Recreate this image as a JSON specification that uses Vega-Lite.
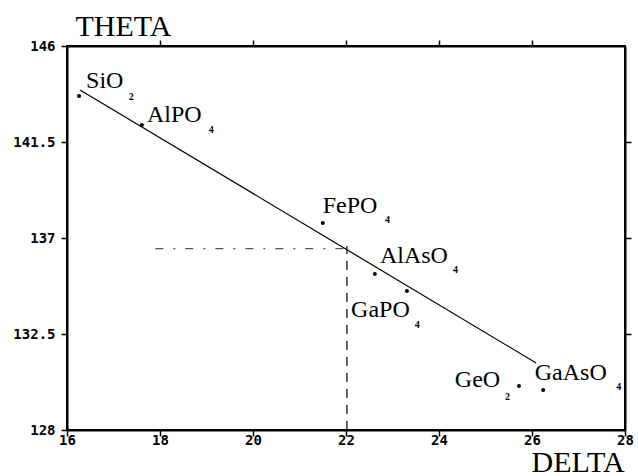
{
  "$schema": "https://vega.github.io/schema/vega-lite/v6.json",
  "width": 558,
  "height": 384,
  "autosize": {"type": "none"},
  "padding": {"left": 67, "top": 46, "right": 13, "bottom": 46},
  "background": "white",
  "config": {
    "view": {"stroke": "black", "strokeWidth": 2},
    "axis": {"grid": false}
  },
  "datasets": {
    "pts": [
      {"name": "SiO", "sub": "2", "delta": 16.26, "theta": 143.66, "lx": 16.41, "ly": 144.03, "sx": 17.33, "sy": 143.47},
      {"name": "AlPO", "sub": "4", "delta": 17.61, "theta": 142.3, "lx": 17.72, "ly": 142.44, "sx": 19.05, "sy": 141.92},
      {"name": "FePO", "sub": "4", "delta": 21.5, "theta": 137.7, "lx": 21.5, "ly": 138.17, "sx": 22.84, "sy": 137.7},
      {"name": "AlAsO", "sub": "4", "delta": 22.62, "theta": 135.31, "lx": 22.73, "ly": 135.83, "sx": 24.3, "sy": 135.36},
      {"name": "GaPO", "sub": "4", "delta": 23.31, "theta": 134.51, "lx": 22.11, "ly": 133.3, "sx": 23.48, "sy": 132.78},
      {"name": "GeO", "sub": "2", "delta": 25.72, "theta": 130.06, "lx": 24.34, "ly": 130.0, "sx": 25.42, "sy": 129.4},
      {"name": "GaAsO", "sub": "4", "delta": 26.24, "theta": 129.87, "lx": 26.06, "ly": 130.34, "sx": 27.81, "sy": 129.87}
    ],
    "fit": [
      {"delta": 16.28, "theta": 143.94},
      {"delta": 26.09, "theta": 131.14}
    ],
    "vdash": [
      {"delta": 22.02, "theta": 128},
      {"delta": 22.02, "theta": 136.62}
    ],
    "hdash": [
      {"delta": 17.9, "theta": 136.5},
      {"delta": 22.02, "theta": 136.5}
    ]
  },
  "resolve": {"axis": {"x": "independent", "y": "independent"}},
  "layer": [
    {
      "data": {"name": "fit"},
      "mark": {"type": "line", "color": "black", "strokeWidth": 1.2},
      "encoding": {
        "x": {
          "field": "delta", "type": "quantitative",
          "scale": {"domain": [16, 28], "nice": false, "zero": false},
          "axis": {
            "orient": "bottom", "values": [16, 18, 20, 22, 24, 26, 28], "format": ".1~f",
            "title": "DELTA", "titleFont": "Liberation Serif", "titleFontSize": 30, "titleFontWeight": "normal",
            "titleColor": "black", "titleX": 464, "titleY": 41, "titleAlign": "left", "titleBaseline": "alphabetic", "titleAnchor": null,
            "labelFont": "DejaVu Sans Mono", "labelFontWeight": "bold", "labelFontSize": 14, "labelColor": "black",
            "labelPadding": -3, "tickSize": 6, "tickColor": "black", "tickWidth": 1.5,
            "encode": {"ticks": {"update": {"y2": {"value": -6}}}},
            "domainColor": "black", "domainWidth": 2, "labelFlush": false, "labelOverlap": false
          }
        },
        "y": {
          "field": "theta", "type": "quantitative",
          "scale": {"domain": [128, 146], "nice": false, "zero": false},
          "axis": {
            "orient": "left", "values": [128, 132.5, 137, 141.5, 146], "format": ".1~f",
            "title": "THETA", "titleFont": "Liberation Serif", "titleFontSize": 30, "titleFontWeight": "normal",
            "titleColor": "black", "titleAngle": 0, "titleX": 8, "titleY": -11, "titleAlign": "left", "titleBaseline": "alphabetic", "titleAnchor": null,
            "labelFont": "DejaVu Sans Mono", "labelFontWeight": "bold", "labelFontSize": 14, "labelColor": "black",
            "labelPadding": 6, "tickSize": 6, "tickColor": "black", "tickWidth": 1.5,
            "encode": {"ticks": {"update": {"x2": {"value": 6}}}},
            "domainColor": "black", "domainWidth": 2, "labelFlush": false, "labelOverlap": false
          }
        }
      }
    },
    {
      "data": {"name": "vdash"},
      "mark": {"type": "line", "color": "black", "strokeWidth": 1.2, "strokeDash": [9, 7]},
      "encoding": {
        "x": {"field": "delta", "type": "quantitative", "axis": {"orient": "top", "values": [18, 20, 22, 24, 26], "labels": false, "title": null, "tickSize": 6, "tickColor": "black", "tickWidth": 1.5, "encode": {"ticks": {"update": {"y2": {"value": 6}}}}, "domainColor": "black", "domainWidth": 2}},
        "y": {"field": "theta", "type": "quantitative", "axis": {"orient": "right", "values": [132.5, 137, 141.5], "labels": false, "title": null, "tickSize": 6, "tickColor": "black", "tickWidth": 1.5, "encode": {"ticks": {"update": {"x2": {"value": -6}}}}, "domainColor": "black", "domainWidth": 2}}
      }
    },
    {
      "data": {"name": "hdash"},
      "mark": {"type": "line", "color": "#555555", "strokeWidth": 1.2, "strokeDash": [8, 10, 2, 10]},
      "encoding": {
        "x": {"field": "delta", "type": "quantitative", "axis": null},
        "y": {"field": "theta", "type": "quantitative", "axis": null}
      }
    },
    {
      "data": {"name": "pts"},
      "mark": {"type": "circle", "color": "black", "opacity": 1, "size": 16},
      "encoding": {
        "x": {"field": "delta", "type": "quantitative", "axis": null},
        "y": {"field": "theta", "type": "quantitative", "axis": null}
      }
    },
    {
      "data": {"name": "pts"},
      "mark": {"type": "text", "font": "Liberation Serif", "fontSize": 24, "align": "left", "baseline": "alphabetic", "color": "black"},
      "encoding": {
        "x": {"field": "lx", "type": "quantitative", "axis": null},
        "y": {"field": "ly", "type": "quantitative", "axis": null},
        "text": {"field": "name"}
      }
    },
    {
      "data": {"name": "pts"},
      "mark": {"type": "text", "font": "Liberation Serif", "fontSize": 10, "fontWeight": "bold", "align": "left", "baseline": "alphabetic", "color": "black"},
      "encoding": {
        "x": {"field": "sx", "type": "quantitative", "axis": null},
        "y": {"field": "sy", "type": "quantitative", "axis": null},
        "text": {"field": "sub"}
      }
    }
  ]
}
